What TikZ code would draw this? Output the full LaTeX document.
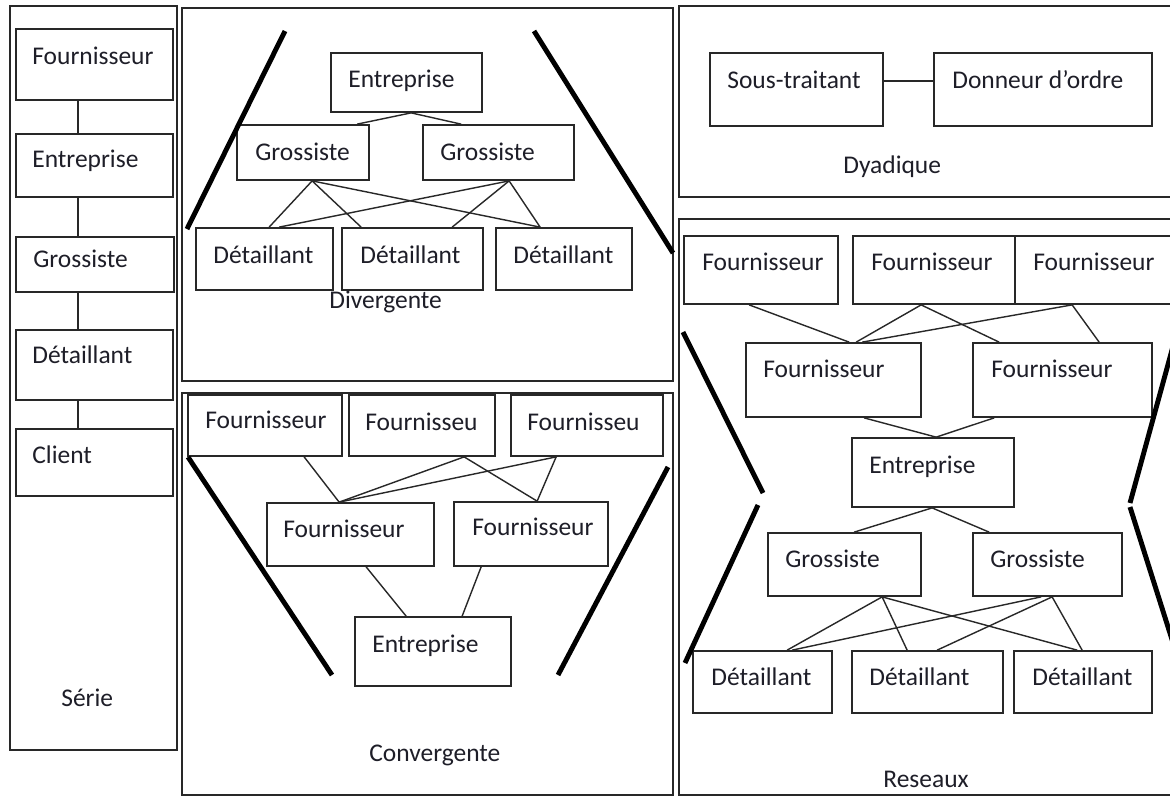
\documentclass[tikz,border=0pt]{standalone}
\usepackage{tikz}
\usepackage{xcolor}
\usepackage{fontspec}
\setmainfont{Carlito}
\usetikzlibrary{positioning,calc}
\definecolor{trait}{RGB}{40,40,40}
\definecolor{texte}{RGB}{30,30,40}

\tikzset{
    cadre/.style={draw=trait, line width=1pt},
    boite/.style={draw=trait, rectangle, line width=1pt, inner sep=0pt},
    mot/.style={anchor=base west, inner sep=0pt, text=texte, font=\fontsize{14.5}{17}\selectfont},
    lien/.style={draw=trait, line width=0.8pt},
    barre/.style={draw=black, line width=2.8pt}
}

\begin{document}
\begin{tikzpicture}[x=0.02cm, y=-0.02cm]
    \useasboundingbox (0,0) rectangle (1170,796);
    \fill[white] (0,0) rectangle (1170,796);

    % panneaux
    \draw[cadre] (10,6) rectangle (177,750);
    \draw[cadre] (182,8) rectangle (673,381);
    \draw[cadre] (182,393) rectangle (673,795);
    \draw[cadre] (679,6) rectangle (1180,197);
    \draw[cadre] (679,219) rectangle (1180,795);

    % Serie
    \node[boite, minimum width=3.14cm, minimum height=1.42cm] (sF) at (94.5,64.5) {};
    \node[boite, minimum width=3.14cm, minimum height=1.26cm] (sE) at (94.5,165.5) {};
    \node[boite, minimum width=3.16cm, minimum height=1.10cm] (sG) at (95,264.5) {};
    \node[boite, minimum width=3.14cm, minimum height=1.40cm] (sD) at (94.5,365) {};
    \node[boite, minimum width=3.14cm, minimum height=1.34cm] (sC) at (94.5,462.5) {};
    \node[mot] at (32,64) {Fournisseur};
    \node[mot] at (32,167) {Entreprise};
    \node[mot] at (33,267) {Grossiste};
    \node[mot] at (32,363) {Détaillant};
    \node[mot] at (32,463) {Client};
    \node[mot] at (61,706) {Série};
    \foreach \a/\b in {sF/sE, sE/sG, sG/sD, sD/sC}
        \draw[lien] ($(\a.south west)+(63,0)$) -- ($(\b.north west)+(63,0)$);

    % Divergente
    \node[boite, minimum width=3.02cm, minimum height=1.18cm] (dE) at (406.5,82.5) {};
    \node[boite, minimum width=2.64cm, minimum height=1.10cm] (dG1) at (303,152.5) {};
    \node[boite, minimum width=3.02cm, minimum height=1.10cm] (dG2) at (498.5,152.5) {};
    \node[boite, minimum width=2.74cm, minimum height=1.24cm] (dD1) at (264.5,259) {};
    \node[boite, minimum width=2.82cm, minimum height=1.24cm] (dD2) at (412.5,259) {};
    \node[boite, minimum width=2.72cm, minimum height=1.24cm] (dD3) at (564,259) {};
    \node[mot] at (348,87) {Entreprise};
    \node[mot] at (255,160) {Grossiste};
    \node[mot] at (440,160) {Grossiste};
    \node[mot] at (213,263) {Détaillant};
    \node[mot] at (360,263) {Détaillant};
    \node[mot] at (513,263) {Détaillant};
    \node[mot] at (329,308) {Divergente};
    \draw[lien] ($(dE.south west)+(81,0)$) -- ($(dG1.north west)+(121,0)$);
    \draw[lien] ($(dE.south west)+(81,0)$) -- ($(dG2.north west)+(39,0)$);
    \draw[lien] ($(dG1.south west)+(76,0)$) -- ($(dD1.north west)+(74,0)$);
    \draw[lien] ($(dG1.south west)+(76,0)$) -- ($(dD2.north west)+(20,0)$);
    \draw[lien] ($(dG1.south west)+(76,0)$) -- ($(dD3.north west)+(45,0)$);
    \draw[lien] ($(dG2.south west)+(87,0)$) -- ($(dD1.north west)+(84,0)$);
    \draw[lien] ($(dG2.south west)+(87,0)$) -- ($(dD2.north west)+(111,0)$);
    \draw[lien] ($(dG2.south west)+(87,0)$) -- ($(dD3.north west)+(45,0)$);
    \draw[barre] (285,31) -- (187,229);
    \draw[barre] (534,31) -- (673,253);

    % Convergente
    \node[boite, minimum width=3.08cm, minimum height=1.22cm] (cF1) at (265,425.5) {};
    \node[boite, minimum width=2.92cm, minimum height=1.22cm] (cF2) at (422,425.5) {};
    \node[boite, minimum width=3.04cm, minimum height=1.22cm] (cF3) at (587,425.5) {};
    \node[boite, minimum width=3.34cm, minimum height=1.26cm] (cM1) at (350.5,534.5) {};
    \node[boite, minimum width=3.08cm, minimum height=1.28cm] (cM2) at (531,534) {};
    \node[boite, minimum width=3.12cm, minimum height=1.38cm] (cE) at (433,651.5) {};
    \node[mot] at (205,428) {Fournisseur};
    \node[mot] at (365,430) {Fournisseu};
    \node[mot] at (527,430) {Fournisseu};
    \node[mot] at (283,537) {Fournisseur};
    \node[mot] at (472,535) {Fournisseur};
    \node[mot] at (372,652) {Entreprise};
    \node[mot] at (369,761) {Convergente};
    \draw[lien] ($(cF1.south west)+(117,0)$) -- ($(cM1.north west)+(73,0)$);
    \draw[lien] ($(cF2.south west)+(116,0)$) -- ($(cM1.north west)+(73,0)$);
    \draw[lien] ($(cF2.south west)+(116,0)$) -- ($(cM2.north west)+(84,0)$);
    \draw[lien] ($(cF3.south west)+(46,0)$) -- ($(cM1.north west)+(73,0)$);
    \draw[lien] ($(cF3.south west)+(46,0)$) -- ($(cM2.north west)+(84,0)$);
    \draw[lien] ($(cM1.south west)+(100,0)$) -- ($(cE.north west)+(52,0)$);
    \draw[lien] ($(cM2.south west)+(28,0)$) -- ($(cE.north west)+(108,0)$);
    \draw[barre] (188,457) -- (332,675);
    \draw[barre] (668,467) -- (558,675);

    % Dyadique
    \node[boite, minimum width=3.46cm, minimum height=1.46cm] (yS) at (796.5,89.5) {};
    \node[boite, minimum width=4.36cm, minimum height=1.46cm] (yD) at (1043,89.5) {};
    \node[mot] at (727,88) {Sous-traitant};
    \node[mot] at (952,88) {Donneur d’ordre};
    \node[mot] at (843,173) {Dyadique};
    \draw[lien] ($(yS.north east)+(0,29)$) -- ($(yD.north west)+(0,29)$);

    % Reseaux
    \node[boite, minimum width=3.08cm, minimum height=1.36cm] (rF1) at (761,270) {};
    \node[boite, minimum width=3.24cm, minimum height=1.36cm] (rF2) at (934,270) {};
    \node[boite, minimum width=3.14cm, minimum height=1.36cm] (rF3) at (1093.5,270) {};
    \node[boite, minimum width=3.50cm, minimum height=1.48cm] (rM1) at (833.5,380) {};
    \node[boite, minimum width=3.58cm, minimum height=1.48cm] (rM2) at (1062.5,380) {};
    \node[boite, minimum width=3.24cm, minimum height=1.38cm] (rE) at (933,472.5) {};
    \node[boite, minimum width=3.06cm, minimum height=1.26cm] (rG1) at (844.5,564.5) {};
    \node[boite, minimum width=2.98cm, minimum height=1.26cm] (rG2) at (1047.5,564.5) {};
    \node[boite, minimum width=2.78cm, minimum height=1.24cm] (rD1) at (762.5,682) {};
    \node[boite, minimum width=3.02cm, minimum height=1.24cm] (rD2) at (927.5,682) {};
    \node[boite, minimum width=2.76cm, minimum height=1.24cm] (rD3) at (1083,682) {};
    \node[mot] at (702,270) {Fournisseur};
    \node[mot] at (871,270) {Fournisseur};
    \node[mot] at (1033,270) {Fournisseur};
    \node[mot] at (763,377) {Fournisseur};
    \node[mot] at (991,377) {Fournisseur};
    \node[mot] at (869,473) {Entreprise};
    \node[mot] at (785,567) {Grossiste};
    \node[mot] at (990,567) {Grossiste};
    \node[mot] at (711,685) {Détaillant};
    \node[mot] at (869,685) {Détaillant};
    \node[mot] at (1032,685) {Détaillant};
    \node[mot] at (883,787) {Reseaux};
    \draw[lien] ($(rF1.south west)+(66,0)$) -- ($(rM1.north west)+(104,0)$);
    \draw[lien] ($(rF2.south west)+(69,0)$) -- ($(rM1.north west)+(111,0)$);
    \draw[lien] ($(rF2.south west)+(69,0)$) -- ($(rM2.north west)+(27,0)$);
    \draw[lien] ($(rF3.south west)+(58,0)$) -- ($(rM1.north west)+(117,0)$);
    \draw[lien] ($(rF3.south west)+(58,0)$) -- ($(rM2.north west)+(127,0)$);
    \draw[lien] ($(rM1.south west)+(119,0)$) -- ($(rE.north west)+(85,0)$);
    \draw[lien] ($(rM2.south west)+(22,0)$) -- ($(rE.north west)+(85,0)$);
    \draw[lien] ($(rE.south west)+(81,0)$) -- ($(rG1.north west)+(87,0)$);
    \draw[lien] ($(rE.south west)+(81,0)$) -- ($(rG2.north west)+(17,0)$);
    \draw[lien] ($(rG1.south west)+(115,0)$) -- ($(rD1.north west)+(95,0)$);
    \draw[lien] ($(rG1.south west)+(115,0)$) -- ($(rD2.north west)+(56,0)$);
    \draw[lien] ($(rG1.south west)+(115,0)$) -- ($(rD3.north west)+(64,0)$);
    \draw[lien] ($(rG2.south west)+(69,0)$) -- ($(rD1.north west)+(100,0)$);
    \draw[lien] ($(rG2.south west)+(80,0)$) -- ($(rD2.north west)+(86,0)$);
    \draw[lien] ($(rG2.south west)+(80,0)$) -- ($(rD3.north west)+(69,0)$);
    \draw[barre] (683,332) -- (763,493);
    \draw[barre] (758,505) -- (685,663);
    \draw[barre] (1175,339) -- (1130,503);
    \draw[barre] (1130,507) -- (1175,649);
\end{tikzpicture}
\end{document}
